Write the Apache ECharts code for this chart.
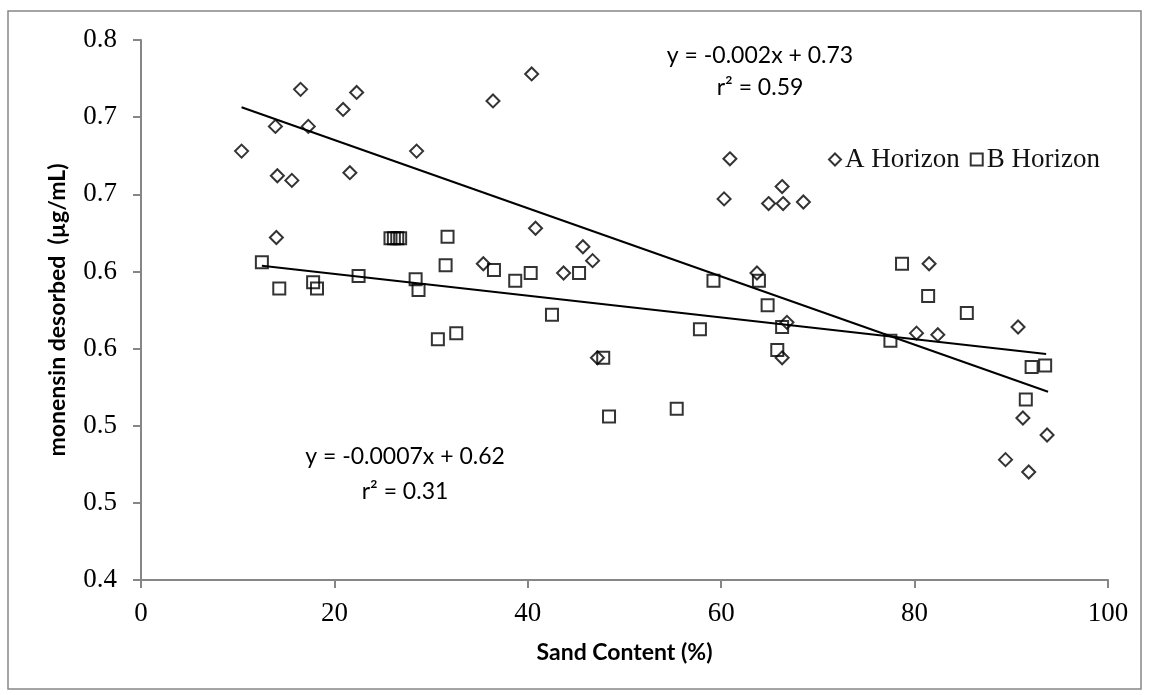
<!DOCTYPE html>
<html>
<head>
<meta charset="utf-8">
<script src="https://cdn.jsdelivr.net/npm/echarts@6/dist/echarts.min.js"></script>
<style>html,body{margin:0;padding:0;background:#fff}#c{width:1149px;height:695px}</style>
</head>
<body>
<div id="c"></div>
<script>
// ---- data ----
const seriesNames = ['A Horizon', 'B Horizon'];
const aSand = [10.4,13.9,14.0,14.1,15.6,16.5,17.3,20.9,21.6,22.3,28.5,35.4,36.4,40.8,40.4,43.7,45.7,46.7,47.2,60.3,60.9,63.7,64.9,66.3,66.4,66.8,66.3,68.5,80.2,81.5,82.4,90.7,91.2,93.7,89.4,91.8];
const aMonensin = [0.678,0.694,0.622,0.662,0.659,0.718,0.694,0.705,0.664,0.716,0.678,0.605,0.7105,0.628,0.728,0.599,0.616,0.607,0.544,0.647,0.673,0.599,0.644,0.655,0.644,0.567,0.544,0.645,0.560,0.605,0.559,0.564,0.505,0.494,0.478,0.470];
const bSand = [12.5,14.3,17.8,18.2,22.5,25.8,26.15,26.5,26.8,28.4,28.7,30.7,31.5,31.7,32.6,36.5,38.7,40.3,42.5,45.3,47.8,48.4,55.4,57.8,59.2,63.9,64.8,66.3,65.8,77.5,78.7,81.4,85.4,92.1,93.5,91.5];
const bMonensin = [0.606,0.589,0.593,0.589,0.597,0.6215,0.6215,0.6215,0.6215,0.595,0.588,0.556,0.604,0.6225,0.560,0.601,0.594,0.599,0.572,0.599,0.544,0.506,0.511,0.5625,0.594,0.594,0.578,0.564,0.549,0.555,0.605,0.584,0.573,0.538,0.539,0.517];
// trend line end points
const trendAX = [10.4, 93.8];
const trendAY = [0.7064, 0.522];
const trendBX = [12.5, 93.6];
const trendBY = [0.6037, 0.5465];
const xTicks = [0, 20, 40, 60, 80, 100];
const yTickLabels = ['0.4','0.5','0.5','0.6','0.6','0.7','0.7','0.8'];
const eqA = ['y = -0.002x + 0.73', 'r² = 0.59'];
const eqB = ['y = -0.0007x + 0.62', 'r² = 0.31'];
const xTitle = 'Sand Content (%)';
const yTitle = 'monensin desorbed  (µg/mL)';

const zip = (xs, ys) => xs.map((x, i) => [x, ys[i]]);

const chart = echarts.init(document.getElementById('c'), null, {renderer: 'canvas'});
const axisColor = '#868686';
const serif = '"Liberation Serif", "DejaVu Serif", serif';
const sans = 'Lato, "Liberation Sans", sans-serif';
const markerStyle = {color: 'rgba(255,255,255,0)', borderColor: '#000', borderWidth: 2};

chart.setOption({
  animation: false,
  backgroundColor: '#fff',
  grid: {left: 141, right: 41, top: 40, bottom: 115, containLabel: false},
  xAxis: {
    type: 'value', min: xTicks[0], max: xTicks[xTicks.length - 1], interval: 20,
    name: xTitle, nameLocation: 'middle', nameGap: 61,
    nameTextStyle: {fontFamily: sans, fontWeight: 'bold', fontSize: 23, color: '#000'},
    axisLine: {show: true, onZero: false, lineStyle: {color: axisColor, width: 2}},
    axisTick: {show: true, inside: false, length: 8, lineStyle: {color: axisColor, width: 2}},
    axisLabel: {fontFamily: serif, fontSize: 27, color: '#000', margin: 20},
    splitLine: {show: false}
  },
  yAxis: {
    type: 'value', min: 0.4, max: 0.75, interval: 0.05,
    name: yTitle, nameLocation: 'middle', nameGap: 72, nameRotate: 90,
    nameTextStyle: {fontFamily: sans, fontWeight: 'bold', fontSize: 23, color: '#000'},
    axisLine: {show: true, onZero: false, lineStyle: {color: axisColor, width: 2}},
    axisTick: {show: true, inside: false, length: 8, lineStyle: {color: axisColor, width: 2}},
    axisLabel: {fontFamily: serif, fontSize: 27, color: '#000', margin: 24,
      formatter: (v, i) => yTickLabels[i]},
    splitLine: {show: false}
  },
  legend: {
    data: seriesNames.map(n => ({name: n, itemStyle: markerStyle})),
    left: 823, top: 141, itemWidth: 12, itemHeight: 12, itemGap: 10,
    textStyle: {fontFamily: serif, fontSize: 27, color: '#111', padding: [0, 0, 0, -1]},
    selectedMode: false
  },
  graphic: [
    {type: 'rect', shape: {x: 8, y: 11, width: 1133, height: 678}, style: {fill: 'none', stroke: axisColor, lineWidth: 1.5}, z: -1, silent: true},
    {type: 'text', x: 760, y: 56, style: {text: eqA[0], font: '23px ' + sans, fill: '#000', textAlign: 'center', textVerticalAlign: 'middle'}},
    {type: 'text', x: 760, y: 88, style: {text: eqA[1], font: '23px ' + sans, fill: '#000', textAlign: 'center', textVerticalAlign: 'middle'}},
    {type: 'text', x: 405, y: 457, style: {text: eqB[0], font: '23px ' + sans, fill: '#000', textAlign: 'center', textVerticalAlign: 'middle'}},
    {type: 'text', x: 405, y: 492, style: {text: eqB[1], font: '23px ' + sans, fill: '#000', textAlign: 'center', textVerticalAlign: 'middle'}}
  ],
  series: [
    {name: seriesNames[0], type: 'scatter', symbol: 'diamond', symbolSize: 13,
      itemStyle: markerStyle, data: zip(aSand, aMonensin), z: 3},
    {name: seriesNames[1], type: 'scatter', symbol: 'rect', symbolSize: 12,
      itemStyle: markerStyle, data: zip(bSand, bMonensin), z: 3},
    {name: 'trendA', type: 'line', data: zip(trendAX, trendAY), symbol: 'none',
      lineStyle: {color: '#000', width: 2}, z: 2, silent: true},
    {name: 'trendB', type: 'line', data: zip(trendBX, trendBY), symbol: 'none',
      lineStyle: {color: '#000', width: 2}, z: 2, silent: true}
  ]
});
</script>
</body>
</html>
